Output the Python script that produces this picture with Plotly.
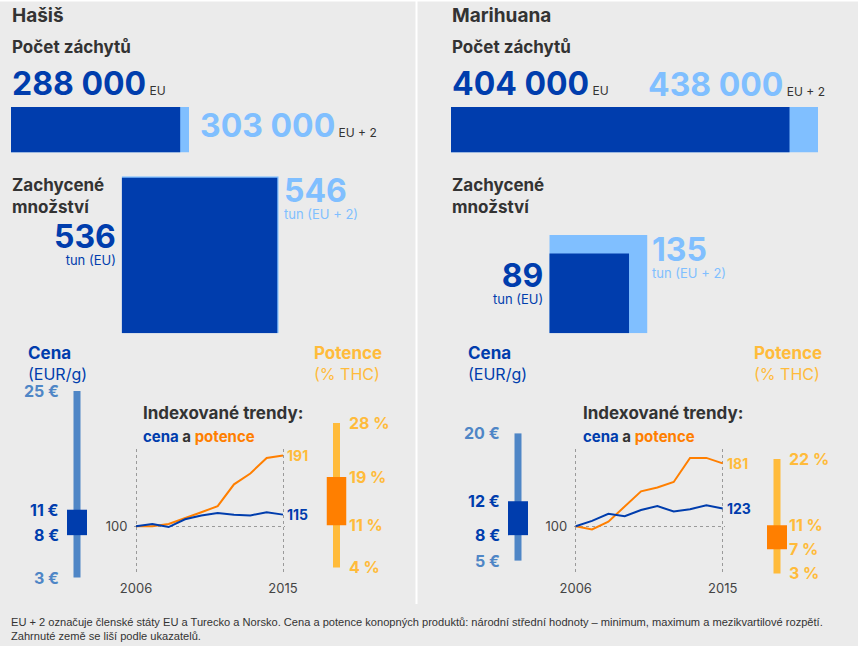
import plotly.graph_objects as go

W, H = 858, 646
FONT = "Inter"
DARK = "#003DAD"
LIGHT = "#80BFFF"
MID = "#4F86C6"
ORANGE = "#FF7F00"
YELLOW = "#FFBB3B"
INK = "#333333"
BG = "#EBEBEB"

# ---------------- data ----------------
drugs = ["Hašiš", "Marihuana"]
seizures_eu = [288000, 404000]
seizures_eu2 = [303000, 438000]
tonnes_eu = [536, 89]
tonnes_eu2 = [546, 135]
price_min = [3, 5]
price_q1 = [8, 8]
price_q3 = [11, 12]
price_max = [25, 20]
potency_min = [4, 3]
potency_q1 = [11, 7]
potency_q3 = [19, 11]
potency_max = [28, 22]
years = [2006, 2007, 2008, 2009, 2010, 2011, 2012, 2013, 2014, 2015]
price_index = [
    [100, 103, 99, 109, 114, 117, 115, 114, 118, 115],
    [100, 107, 116, 113, 121, 126, 119, 122, 127, 123],
]
potency_index = [
    [100, 100, 103, 110, 118, 126, 154, 168, 188, 191],
    [100, 96, 106, 126, 145, 150, 157, 188, 188, 181],
]
footnote = [
    "EU + 2 označuje členské státy EU a Turecko a Norsko. Cena a potence konopných produktů: "
    "národní střední hodnoty – minimum, maximum a mezikvartilové rozpětí.",
    "Zahrnuté země se liší podle ukazatelů.",
]

# ---------------- layout constants (pixels) ----------------
ox = [0, 440]                      # panel offsets
bar_px = [(11, 189), (451, 818)]   # seizure bar extent (0 .. EU+2 value)
bar_y = (107, 152.5)
sq_origin = [(121.7, 333.3), (549.3, 333.3)]
sq_scale = [6.72, 8.45]            # px per sqrt(tonne)
price_cx = [77, 518]
pot_cx = [336.5, 777]
price_ypx = (391, 603)             # 25 € .. 0 €
price_range = [0, 25]
pot_ypx = (422.9, 591.5)           # 28 % .. 0 %
pot_range = [0, 28]
trend_x = [(136, 283), (575.7, 722.7)]
trend_ypx = (448.6, 572.9)
trend_range = [40, 200]
trend_pad = 0.12                   # years of slack so the edge grid lines are drawn


def fx(x):
    return x / W


def fy(y):
    return 1 - y / H


fig = go.Figure()
axes = {}
annotations = []


def add_axes(n, xpx, ypx, xrange, yrange):
    s = "" if n == 1 else str(n)
    base = dict(visible=False, fixedrange=True, automargin=False)
    axes[f"xaxis{s}"] = dict(domain=[fx(xpx[0]), fx(xpx[1])], range=xrange,
                             anchor=f"y{s}", **base)
    axes[f"yaxis{s}"] = dict(domain=[fy(ypx[1]), fy(ypx[0])], range=yrange,
                             anchor=f"x{s}", **base)
    return f"x{s}", f"y{s}", f"xaxis{s}", f"yaxis{s}"


def text(x, y, s, size, color=INK, bold=False, xanchor="left",
         xref="paper", yref="paper", xshift=0, family=FONT):
    annotations.append(dict(
        x=fx(x) if xref == "paper" else x,
        y=fy(y) if yref == "paper" else y,
        xref=xref, yref=yref, text=s, showarrow=False, align=xanchor,
        xanchor=xanchor, yanchor="middle", xshift=xshift, borderpad=0,
        font=dict(family=family, size=size, color=color,
                  weight=700 if bold else 400)))


def fmt(v):
    return f"{v:,}".replace(",", " ")


def big(v, size=32):
    return f"<span style='font-size:{size}px;font-weight:700'>{v}</span>"


n = 1
for i, name in enumerate(drugs):
    o = ox[i]
    # headings
    text(o + 11, 16, name, 19, bold=True)
    text(o + 11, 47, "Počet záchytů", 17, bold=True)

    # seizures bar
    xr, yr, _, _ = add_axes(n, bar_px[i], bar_y, [0, seizures_eu2[i]], [-0.5, 0.5])
    n += 1
    fig.add_trace(go.Bar(y=[0], x=[seizures_eu2[i]], orientation="h", width=[1],
                         marker=dict(color=LIGHT, line_width=0), xaxis=xr, yaxis=yr))
    fig.add_trace(go.Bar(y=[0], x=[seizures_eu[i]], orientation="h", width=[1],
                         marker=dict(color=DARK, line_width=0), xaxis=xr, yaxis=yr))
    small = "<span style='font-size:12px;font-weight:400;fill:#333333'>"
    text(o + 11, 84, f"{fmt(seizures_eu[i])}{small} EU</span>", 32, DARK, bold=True)
    if i == 0:
        text(199, 125, f"{fmt(seizures_eu2[i])}{small} EU + 2</span>", 32, LIGHT, bold=True)
    else:
        text(647, 85, f"{fmt(seizures_eu2[i])}{small} EU + 2</span>", 32, LIGHT, bold=True)

    # seized quantity squares (area ~ tonnes)
    k = sq_scale[i]
    smax = tonnes_eu2[i] ** 0.5
    x0, y0 = sq_origin[i]
    xr, yr, _, _ = add_axes(n, (x0, x0 + k * smax), (y0 - k * smax, y0), [0, smax], [0, smax])
    n += 1
    for t, col in ((tonnes_eu2[i], LIGHT), (tonnes_eu[i], DARK)):
        s = t ** 0.5
        fig.add_trace(go.Scatter(x=[0, s, s, 0, 0], y=[0, 0, s, s, 0], mode="lines",
                                 fill="toself", fillcolor=col, line=dict(width=0, color=col),
                                 xaxis=xr, yaxis=yr))
    text(o + 11, 196, "Zachycené<br>množství", 17, bold=True)
    s_eu = k * tonnes_eu[i] ** 0.5
    s_eu2 = k * smax
    text(x0 - 5, y0 - s_eu + (65 if i == 0 else 28), f"{big(tonnes_eu[i])}<br>tun (EU)", 13, DARK,
         xanchor="right")
    text(x0 + s_eu2 + 4, y0 - s_eu2 + 20, f"{big(tonnes_eu2[i])}<br>tun (EU + 2)", 13, LIGHT)

    # price range
    xr, yr, _, _ = add_axes(n, (price_cx[i] - 10, price_cx[i] + 10), price_ypx, [-0.5, 0.5], price_range)
    n += 1
    fig.add_trace(go.Bar(x=[0], y=[price_max[i] - price_min[i]], base=[price_min[i]], width=[0.35],
                         marker=dict(color=MID, line_width=0), xaxis=xr, yaxis=yr))
    fig.add_trace(go.Bar(x=[0], y=[price_q3[i] - price_q1[i]], base=[price_q1[i]], width=[1],
                         marker=dict(color=DARK, line_width=0), xaxis=xr, yaxis=yr))
    lx = price_cx[i] - 17
    for v, col in ((price_max[i], MID), (price_q3[i], DARK), (price_q1[i], DARK), (price_min[i], MID)):
        annotations.append(dict(x=fx(lx), y=v, xref="paper", yref=yr, text=f"{v} €",
                                showarrow=False, xanchor="right", yanchor="middle", borderpad=0,
                                font=dict(family=FONT, size=16, color=col, weight=700)))
    text(o + 27, 353, "Cena", 17, DARK, bold=True)
    text(o + 27, 374, "(EUR/g)", 16, DARK)

    # potency range
    xr, yr, _, _ = add_axes(n, (pot_cx[i] - 10, pot_cx[i] + 10), pot_ypx, [-0.5, 0.5], pot_range)
    n += 1
    fig.add_trace(go.Bar(x=[0], y=[potency_max[i] - potency_min[i]], base=[potency_min[i]], width=[0.35],
                         marker=dict(color=YELLOW, line_width=0), xaxis=xr, yaxis=yr))
    fig.add_trace(go.Bar(x=[0], y=[potency_q3[i] - potency_q1[i]], base=[potency_q1[i]], width=[1],
                         marker=dict(color=ORANGE, line_width=0), xaxis=xr, yaxis=yr))
    lx = pot_cx[i] + 11
    for v in (potency_max[i], potency_q3[i], potency_q1[i], potency_min[i]):
        annotations.append(dict(x=fx(lx), y=v, xref="paper", yref=yr, text=f"{v} %",
                                showarrow=False, xanchor="left", yanchor="middle", borderpad=0,
                                font=dict(family=FONT, size=16, color=YELLOW, weight=700)))
    text(pot_cx[i] - 24, 353, "Potence", 17, YELLOW, bold=True)
    text(pot_cx[i] - 24, 374, "(% THC)", 16, YELLOW)

    # indexed trends
    pad_px = trend_pad * (trend_x[i][1] - trend_x[i][0]) / (years[-1] - years[0])
    xr, yr, xa, ya = add_axes(n, (trend_x[i][0] - pad_px, trend_x[i][1] + pad_px), trend_ypx,
                              [years[0] - trend_pad, years[-1] + trend_pad], trend_range)
    n += 1
    grid = dict(visible=True, showgrid=True, gridcolor="#9A9A9A", griddash="dot", gridwidth=1,
                zeroline=False, showline=False, ticks="outside", ticklen=3, tickcolor="rgba(0,0,0,0)",
                tickfont=dict(family=FONT, size=13, color="#444444"))
    axes[xa].update(grid, tickvals=[years[0], years[-1]], ticktext=[str(years[0]), str(years[-1])])
    axes[ya].update(grid, tickvals=[100], ticktext=["100"])
    fig.add_trace(go.Scatter(x=years, y=potency_index[i], mode="lines",
                             line=dict(color=ORANGE, width=2), xaxis=xr, yaxis=yr))
    fig.add_trace(go.Scatter(x=years, y=price_index[i], mode="lines",
                             line=dict(color=DARK, width=2), xaxis=xr, yaxis=yr))
    for series, col in ((potency_index[i], YELLOW), (price_index[i], DARK)):
        annotations.append(dict(x=years[-1], y=series[-1], xref=xr, yref=yr, text=str(series[-1]),
                                showarrow=False, xanchor="left", yanchor="middle", xshift=3,
                                borderpad=0,
                                font=dict(family=FONT, size=14, color=col, weight=700)))
    tx = trend_x[i][0] + 6
    text(tx, 413, "Indexované trendy:", 17, bold=True)
    text(tx, 436, f"<span style='fill:{DARK}'>cena</span> a "
                  f"<span style='fill:{ORANGE}'>potence</span>", 15, INK, bold=True)

# footnote
text(10, 622, footnote[0], 11.1, INK, family="Liberation Sans")
text(10, 636, footnote[1], 11.1, INK, family="Liberation Sans")

fig.update_layout(
    width=W, height=H, margin=dict(l=0, r=0, t=0, b=0, pad=0, autoexpand=False),
    paper_bgcolor=BG, plot_bgcolor="rgba(0,0,0,0)",
    showlegend=False, barmode="overlay",
    annotations=annotations,
    shapes=[
        dict(type="line", xref="paper", yref="paper", x0=fx(416.5), x1=fx(416.5),
             y0=fy(0), y1=fy(604), line=dict(color="white", width=2)),
        dict(type="line", xref="paper", yref="paper", x0=0, x1=1, y0=fy(0.5), y1=fy(0.5),
             line=dict(color="white", width=2)),
    ],
    **axes,
)

fig.write_html("out.html")
